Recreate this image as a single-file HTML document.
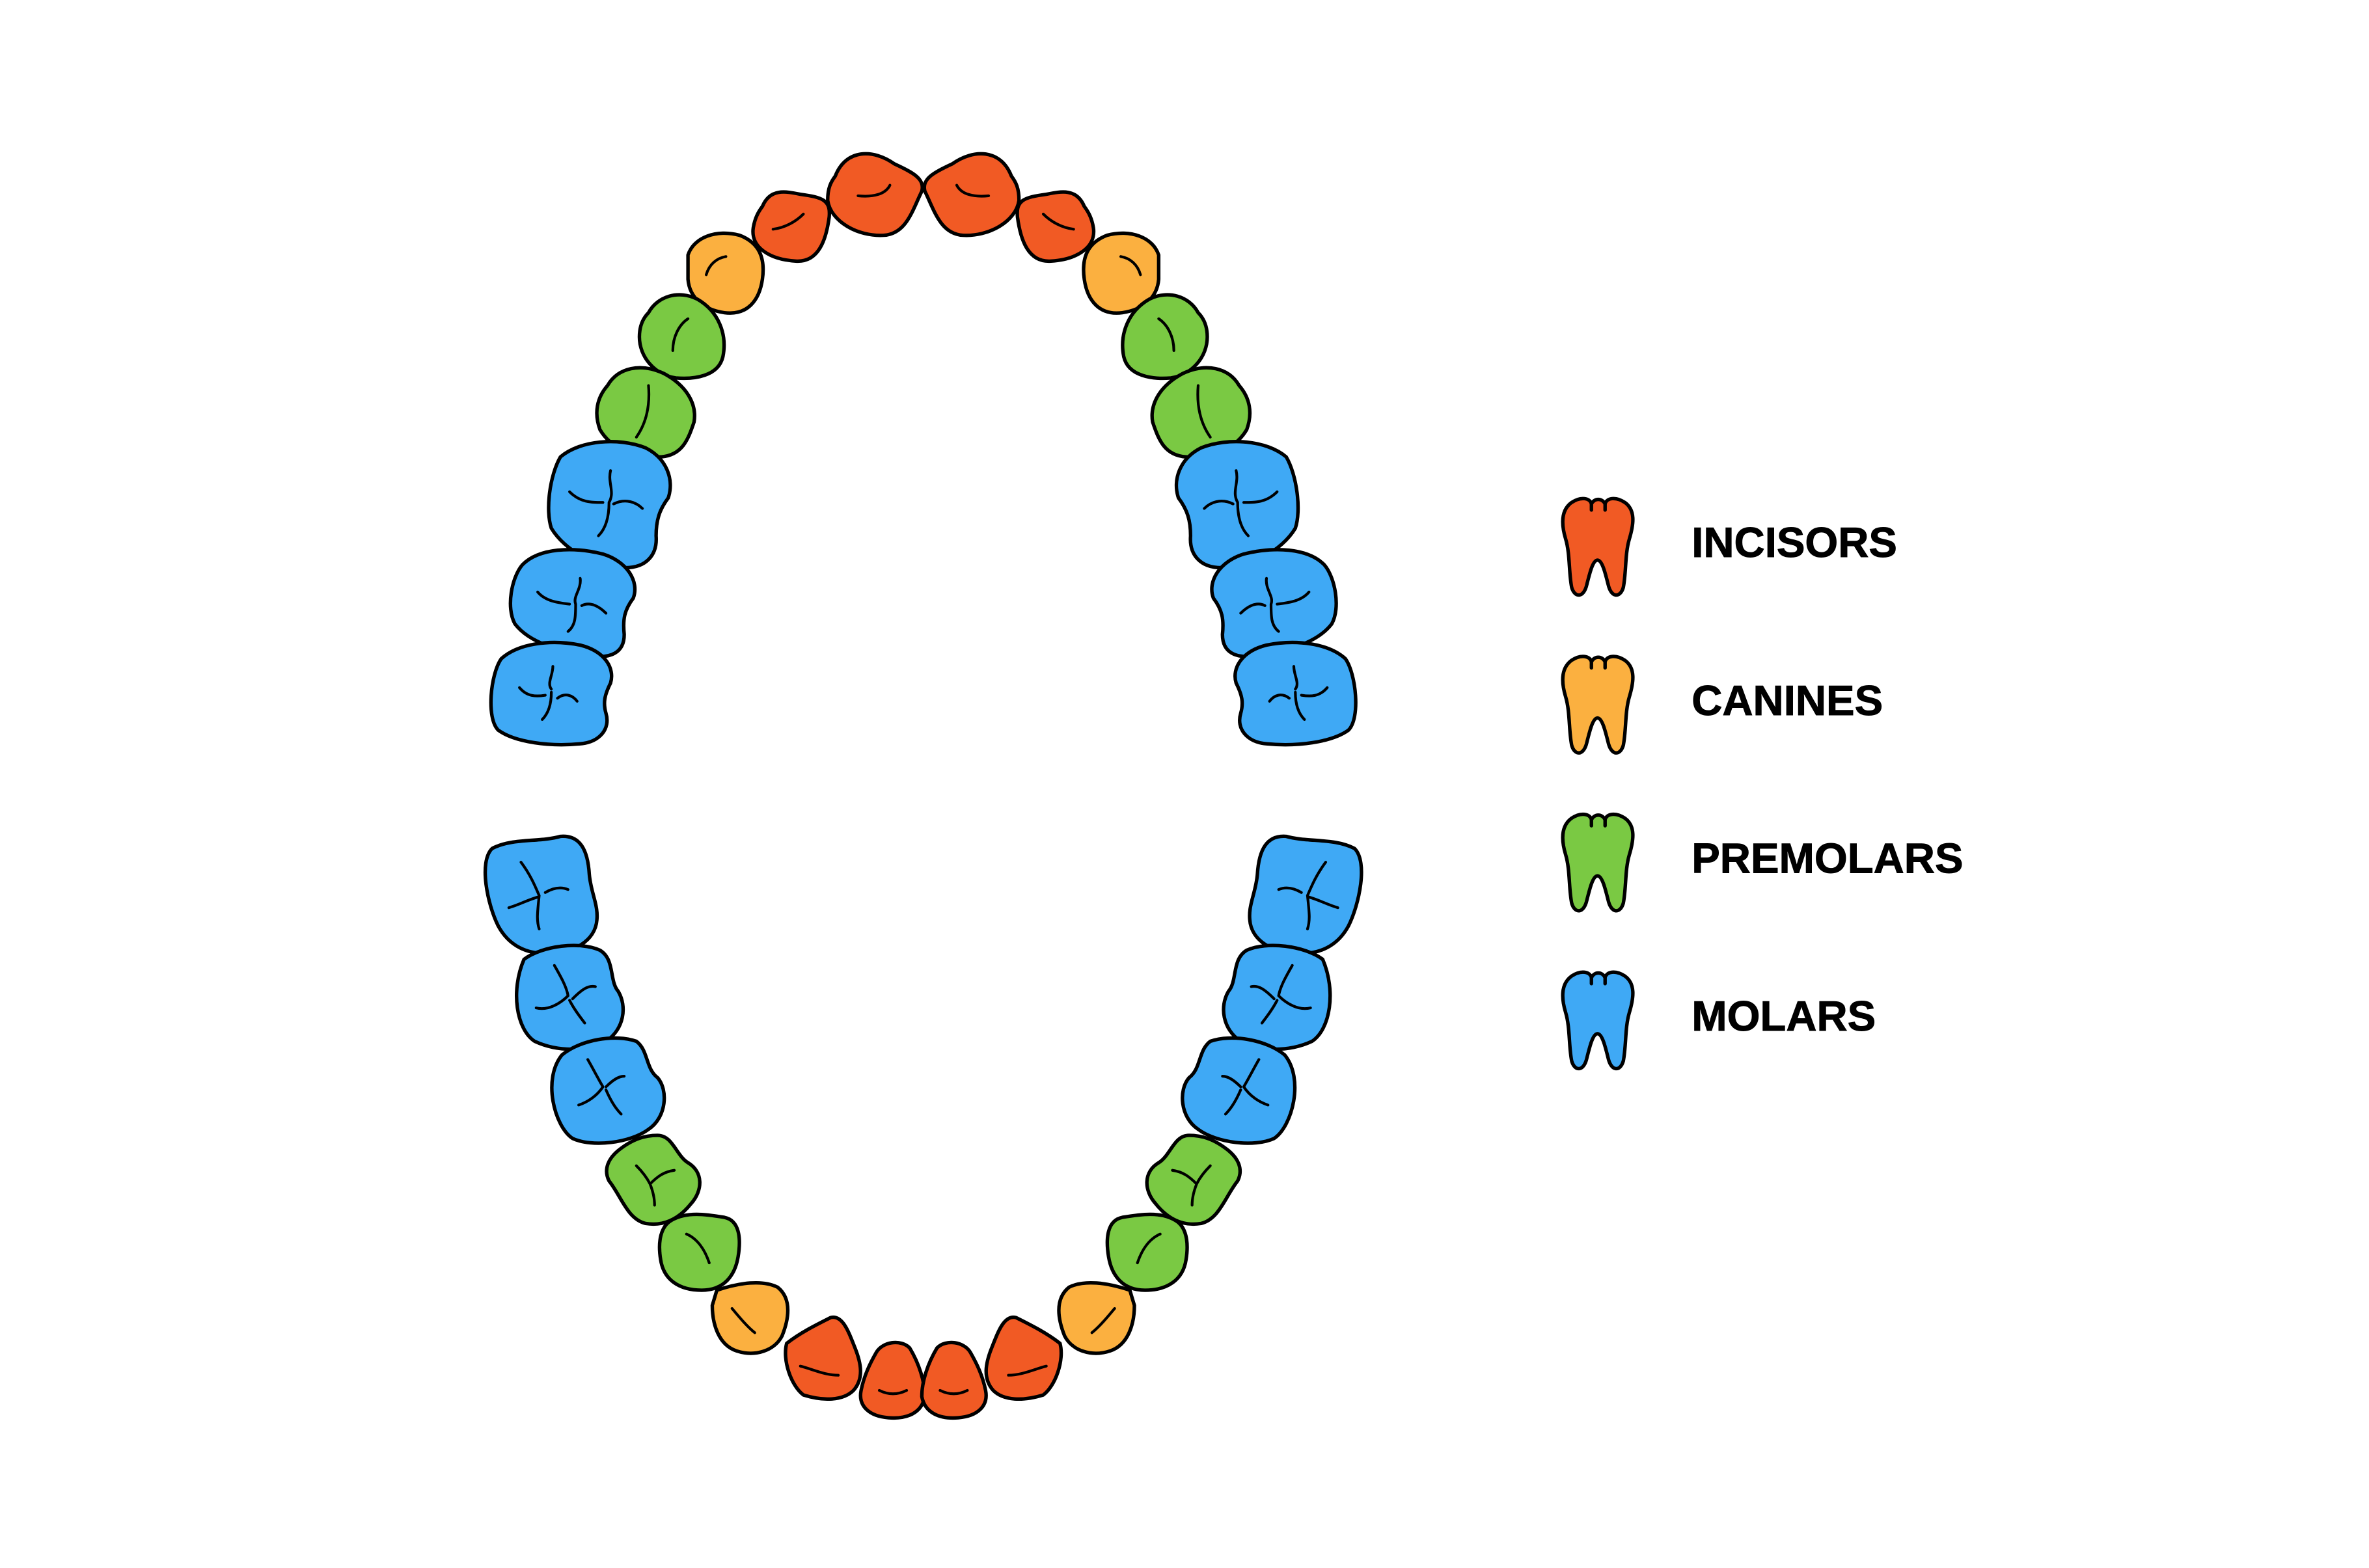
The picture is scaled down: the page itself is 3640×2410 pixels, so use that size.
<!DOCTYPE html>
<html><head><meta charset="utf-8"><style>
html,body{margin:0;padding:0;background:#fff;}
svg{display:block;}
</style></head><body>
<svg width="3640" height="2410" viewBox="0 0 1560 1033" xmlns="http://www.w3.org/2000/svg">
<defs>
<path id="lt" d="M8,4 C14,0 20,1 21,5 C23,1 28,1 30,5 C31,1 37,0 43,4 C50,9 49,18 46,28 C43,38 44,50 42,60 C40,67 34,67 32,58 C30,50 28,42 25,42 C22,42 20,50 18,58 C16,67 10,67 8,60 C6,50 7,38 4,28 C1,18 1,9 8,4 Z"/>
</defs>
<g transform="translate(-3,-2)">
<g stroke="#000" stroke-width="2.3" stroke-linejoin="round" stroke-linecap="round">
<g fill="#F15A24">
<path d="M553,118 C560,100 578,100 592,110 C605,116 612,120 610,128 C604,140 600,156 585,157 C568,158 550,148 548,134 C548,126 550,122 553,118 Z"/>
<path d="M669,118 C662,100 644,100 630,110 C617,116 610,120 612,128 C618,140 622,156 637,157 C654,158 672,148 674,134 C674,126 672,122 669,118 Z"/>
<path d="M505,138 C510,126 520,128 530,130 C545,132 550,134 549,145 C547,160 542,175 527,174 C510,173 497,165 499,152 C500,146 502,142 505,138 Z"/>
<path d="M717,138 C712,126 702,128 692,130 C677,132 672,134 673,145 C675,160 680,175 695,174 C712,173 725,165 723,152 C722,146 720,142 717,138 Z"/>
</g>
<g fill="#FBB040">
<path d="M456,170 C460,158 475,153 490,157 C503,162 507,172 505,186 C503,200 495,210 480,208 C466,206 457,198 456,186 Z"/>
<path d="M766,170 C762,158 747,153 732,157 C719,162 715,172 717,186 C719,200 727,210 742,208 C756,206 765,198 766,186 Z"/>
</g>
<g fill="#7AC943">
<path d="M430,208 C436,197 450,193 462,199 C476,207 482,222 479,237 C476,250 460,252 448,251 C434,249 424,237 424,224 C424,217 426,212 430,208 Z"/>
<path d="M792,208 C786,197 772,193 760,199 C746,207 740,222 743,237 C746,250 762,252 774,251 C788,249 798,237 798,224 C798,217 796,212 792,208 Z"/>
<path d="M403,256 C410,244 425,241 440,248 C455,256 462,268 460,280 C456,292 452,302 438,303 C420,304 405,297 398,285 C394,274 396,264 403,256 Z"/>
<path d="M819,256 C812,244 797,241 782,248 C767,256 760,268 762,280 C766,292 770,302 784,303 C802,304 817,297 824,285 C828,274 826,264 819,256 Z"/>
</g>
<g fill="#3FA9F5">
<path d="M372,303 C385,292 410,290 428,297 C442,304 447,318 443,330 C437,338 435,345 435,355 C436,368 428,376 415,376 C396,376 375,365 366,350 C362,338 365,315 372,303 Z"/>
<path d="M850,303 C837,292 812,290 794,297 C780,304 775,318 779,330 C785,338 787,345 787,355 C786,368 794,376 807,376 C826,376 847,365 856,350 C860,338 857,315 850,303 Z"/>
<path d="M347,374 C358,363 380,362 400,367 C416,372 424,385 420,396 C414,404 413,410 414,420 C414,432 405,436 392,434 C372,431 352,426 342,413 C336,402 340,382 347,374 Z"/>
<path d="M875,374 C864,363 842,362 822,367 C806,372 798,385 802,396 C808,404 809,410 808,420 C808,432 817,436 830,434 C850,431 870,426 880,413 C886,402 882,382 875,374 Z"/>
<path d="M333,436 C344,426 365,423 385,427 C401,431 408,442 405,452 C401,460 400,465 402,472 C405,482 398,491 385,492 C365,494 342,491 331,483 C323,475 326,446 333,436 Z"/>
<path d="M889,436 C878,426 857,423 837,427 C821,431 814,442 817,452 C821,460 822,465 820,472 C817,482 824,491 837,492 C857,494 880,491 891,483 C899,475 896,446 889,436 Z"/>
</g>
<g fill="#3FA9F5">
<path d="M327,561 C340,554 358,557 372,553 C385,552 390,562 391,578 C392,590 397,598 396,608 C395,622 380,630 365,630 C350,631 338,625 331,612 C324,598 318,570 327,561 Z"/>
<path d="M895,561 C882,554 864,557 850,553 C837,552 832,562 831,578 C830,590 825,598 826,608 C827,622 842,630 857,630 C872,631 884,625 891,612 C898,598 904,570 895,561 Z"/>
<path d="M348,634 C360,625 385,622 398,628 C408,634 404,648 410,655 C416,665 414,680 402,688 C390,695 370,695 355,688 C343,680 339,655 348,634 Z"/>
<path d="M874,634 C862,625 837,622 824,628 C814,634 818,648 812,655 C806,665 808,680 820,688 C832,695 852,695 867,688 C879,680 883,655 874,634 Z"/>
<path d="M373,697 C385,687 408,683 422,688 C430,694 428,706 436,712 C443,720 442,738 430,746 C418,755 393,758 380,752 C368,744 360,713 373,697 Z"/>
<path d="M849,697 C837,687 814,683 800,688 C792,694 794,706 786,712 C779,720 780,738 792,746 C804,755 829,758 842,752 C854,744 862,713 849,697 Z"/>
</g>
<g fill="#7AC943">
<path d="M410,760 C420,752 428,750 436,750 C446,750 448,763 456,768 C466,774 466,786 458,795 C450,805 440,810 428,808 C416,805 412,790 404,780 C400,772 404,765 410,760 Z"/>
<path d="M812,760 C802,752 794,750 786,750 C776,750 774,763 766,768 C756,774 756,786 764,795 C772,805 782,810 794,808 C806,805 810,790 818,780 C822,772 818,765 812,760 Z"/>
<path d="M445,806 C455,800 468,802 480,804 C490,806 491,818 489,830 C487,842 480,852 465,852 C450,852 440,845 438,832 C436,820 438,810 445,806 Z"/>
<path d="M777,806 C767,800 754,802 742,804 C732,806 731,818 733,830 C735,842 742,852 757,852 C772,852 782,845 784,832 C786,820 784,810 777,806 Z"/>
</g>
<g fill="#FBB040">
<path d="M475,852 C490,847 505,845 515,850 C525,858 522,872 518,882 C513,892 500,896 488,892 C476,888 472,874 472,862 Z"/>
<path d="M747,852 C732,847 717,845 707,850 C697,858 700,872 704,882 C709,892 722,896 734,892 C746,888 750,874 750,862 Z"/>
</g>
<g fill="#F15A24">
<path d="M521,887 C530,880 540,875 550,870 C558,868 562,880 566,890 C570,900 572,910 565,918 C558,925 545,925 532,921 C524,915 518,898 521,887 Z"/>
<path d="M701,887 C692,880 682,875 672,870 C664,868 660,880 656,890 C652,900 650,910 657,918 C664,925 677,925 690,921 C698,915 704,898 701,887 Z"/>
<path d="M580,893 C584,886 596,884 602,890 C608,900 612,912 612,922 C610,933 600,937 588,936 C575,935 568,928 570,918 C572,908 576,900 580,893 Z"/>
<path d="M642,893 C638,886 626,884 620,890 C614,900 610,912 610,922 C612,933 622,937 634,936 C647,935 654,928 652,918 C650,908 646,900 642,893 Z"/>
</g>
</g>
<g fill="none" stroke="#000" stroke-width="1.8" stroke-linecap="round">
<path d="M568,131 C578,132 586,130 589,124"/><path d="M654,131 C644,132 636,130 633,124"/>
<path d="M512,153 C520,152 527,148 532,143"/><path d="M710,153 C702,152 695,148 690,143"/>
<path d="M468,183 C470,176 475,172 481,171"/><path d="M754,183 C752,176 747,172 741,171"/>
<path d="M446,233 C446,224 450,216 456,212"/><path d="M776,233 C776,224 772,216 766,212"/>
<path d="M422,290 C429,280 431,268 430,256"/><path d="M800,290 C793,280 791,268 792,256"/>
<path d="M405,312 C403,320 408,326 404,333 M404,333 C404,342 402,350 397,355 M378,326 C385,333 392,333 400,333 M407,334 C415,330 422,333 426,337"/>
<path d="M817,312 C819,320 814,326 818,333 M818,333 C818,342 820,350 825,355 M844,326 C837,333 830,333 822,333 M815,334 C807,330 800,333 796,337"/>
<path d="M385,383 C386,390 380,395 382,400 M382,400 C382,408 382,414 377,418 M357,392 C362,398 370,399 378,400 M386,401 C392,398 398,402 402,406"/>
<path d="M837,383 C836,390 842,395 840,400 M840,400 C840,408 840,414 845,418 M865,392 C860,398 852,399 844,400 M836,401 C830,398 824,402 820,406"/>
<path d="M367,441 C367,447 363,452 366,456 M366,458 C366,466 364,472 360,476 M345,455 C350,461 356,461 362,460 M370,462 C375,458 380,460 383,464"/>
<path d="M855,441 C855,447 859,452 856,456 M856,458 C856,466 858,472 862,476 M877,455 C872,461 866,461 860,460 M852,462 C847,458 842,460 839,464"/>
<path d="M346,570 C352,578 355,585 358,592 M358,592 C357,602 356,608 358,614 M338,600 C345,598 350,595 357,593 M362,590 C367,587 372,586 377,588"/>
<path d="M876,570 C870,578 867,585 864,592 M864,592 C865,602 866,608 864,614 M884,600 C877,598 872,595 865,593 M860,590 C855,587 850,586 845,588"/>
<path d="M368,638 C372,645 376,652 377,658 M377,658 C372,663 364,668 356,666 M380,660 C386,654 390,651 395,652 M378,661 C381,667 385,672 388,676"/>
<path d="M854,638 C850,645 846,652 845,658 M845,658 C850,663 858,668 866,666 M842,660 C836,654 832,651 827,652 M844,661 C841,667 837,672 834,676"/>
<path d="M390,700 C394,707 397,713 400,718 M400,718 C396,724 390,728 384,730 M402,718 C406,714 410,711 414,711 M402,720 C405,727 408,732 412,736"/>
<path d="M832,700 C828,707 825,713 822,718 M822,718 C826,724 832,728 838,730 M820,718 C816,714 812,711 808,711 M820,720 C817,727 814,732 810,736"/>
<path d="M422,770 C426,774 429,778 431,782 M431,782 C433,787 434,792 434,796 M431,782 C436,777 440,774 447,773"/>
<path d="M800,770 C796,774 793,778 791,782 M791,782 C789,787 788,792 788,796 M791,782 C786,777 782,774 775,773"/>
<path d="M455,815 C462,818 467,825 470,834"/><path d="M767,815 C760,818 755,825 752,834"/>
<path d="M485,864 C490,870 495,876 500,880"/><path d="M737,864 C732,870 727,876 722,880"/>
<path d="M530,902 C538,904 546,908 555,908"/><path d="M692,902 C684,904 676,908 667,908"/>
<path d="M582,918 C588,921 594,921 600,918"/><path d="M640,918 C634,921 628,921 622,918"/>
</g>
</g>
<g transform="translate(-6,-3)">
<g stroke="#000" stroke-width="2.3" stroke-linejoin="round" stroke-linecap="round">
<g transform="translate(1033,330)"><use href="#lt" fill="#F15A24"/><path d="M21,5 L21,9 M30,5 L30,9" fill="none"/></g>
<g transform="translate(1033,434)"><use href="#lt" fill="#FBB040"/><path d="M21,5 L21,9 M30,5 L30,9" fill="none"/></g>
<g transform="translate(1033,538)"><use href="#lt" fill="#7AC943"/><path d="M21,5 L21,9 M30,5 L30,9" fill="none"/></g>
<g transform="translate(1033,642)"><use href="#lt" fill="#3FA9F5"/><path d="M21,5 L21,9 M30,5 L30,9" fill="none"/></g>
</g>
<g font-family="Liberation Sans, Arial, sans-serif" font-weight="bold" font-size="28" fill="#000" stroke="#000" stroke-width="0.4">
<text x="1120" y="370">INCISORS</text>
<text x="1120" y="474">CANINES</text>
<text x="1120" y="578">PREMOLARS</text>
<text x="1120" y="682">MOLARS</text>
</g>
</g>
</svg>
</body></html>
